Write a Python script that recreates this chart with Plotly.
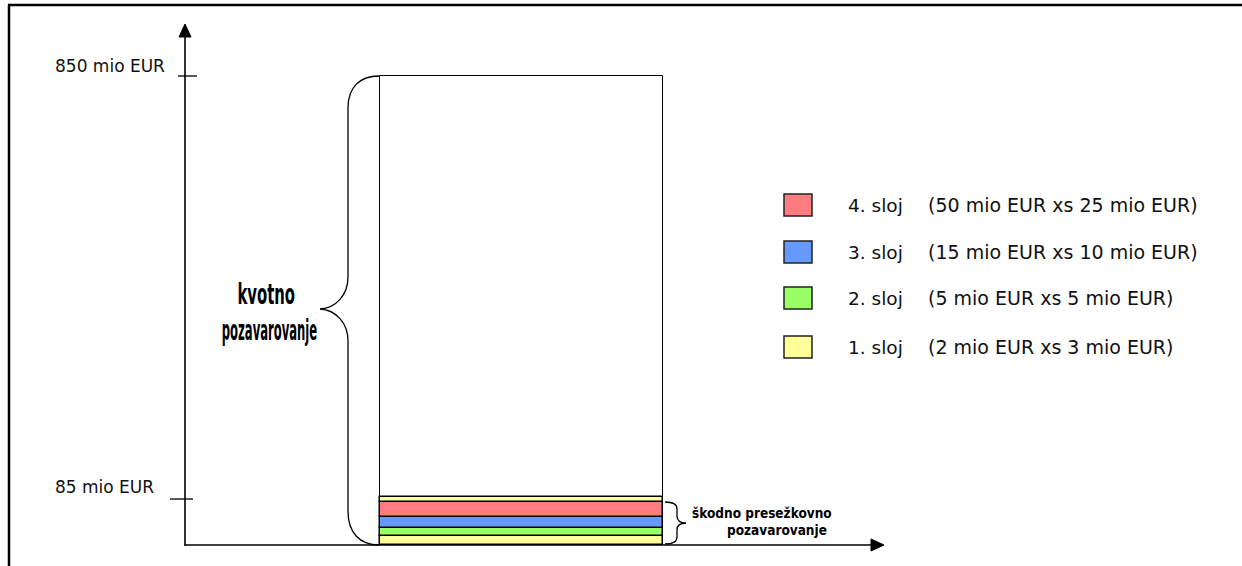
import plotly.graph_objects as go

# Layer structure of the reinsurance programme (bands drawn bottom -> top).
BAND_LAYER = [1, 2, 3, 4, 1]
BAND_HEIGHTS = [9, 8, 11, 15, 5]          # schematic band heights (diagram units)
BOX_HEIGHT = 469                           # height of the quota-share block

# Axis marks on the vertical axis (diagram units) and their labels
TICK_POS = [46, 469]
TICK_LABELS = ["85 mio EUR", "850 mio EUR"]

# Legend rows (top -> bottom)
LEGEND_LAYERS = [4, 3, 2, 1]
LAYER_NAMES = {1: "1. sloj", 2: "2. sloj", 3: "3. sloj", 4: "4. sloj"}
LAYER_DESC = {
    1: "(2 mio EUR xs 3 mio EUR)",
    2: "(5 mio EUR xs 5 mio EUR)",
    3: "(15 mio EUR xs 10 mio EUR)",
    4: "(50 mio EUR xs 25 mio EUR)",
}
LAYER_COLORS = {1: "#FFFF99", 2: "#99FF66", 3: "#6699FF", 4: "#FF7C80"}

W, H = 1242, 566
Y0 = 545          # baseline offset so one diagram unit is one pixel
BOX_X0, BOX_X1 = 380, 663
AX_X = 185

fig = go.Figure()

# Quota-share block
fig.add_trace(go.Bar(
    x=[(BOX_X0 + BOX_X1) / 2], y=[BOX_HEIGHT], base=[0], width=[BOX_X1 - BOX_X0],
    marker=dict(color="white", line=dict(color="black", width=1)),
    showlegend=False, hoverinfo="skip",
))

# Excess-of-loss layers stacked at the bottom
base = 0
for lay, h in zip(BAND_LAYER, BAND_HEIGHTS):
    fig.add_trace(go.Bar(
        x=[(BOX_X0 + BOX_X1) / 2], y=[h], base=[base], width=[BOX_X1 - BOX_X0],
        marker=dict(color=LAYER_COLORS[lay], line=dict(color="black", width=1.5)),
        showlegend=False, hoverinfo="skip", name=LAYER_NAMES[lay],
    ))
    base += h

shapes = []
line_blk = dict(color="black", width=1.6)

# Outer frame (left and top edges)
shapes.append(dict(type="line", xref="paper", yref="paper", x0=9 / W, y0=0, x1=9 / W, y1=1 - 5 / H,
                   line=dict(color="black", width=2.5)))
shapes.append(dict(type="line", xref="paper", yref="paper", x0=8 / W, y0=1 - 5 / H, x1=1, y1=1 - 5 / H,
                   line=dict(color="black", width=2.5)))

# Vertical axis with arrow head
shapes.append(dict(type="line", xref="x", yref="y", x0=AX_X, y0=-1, x1=AX_X, y1=510, line=line_blk))
shapes.append(dict(type="path", xref="x", yref="y",
                   path=f"M {AX_X-6},508 L {AX_X+6},508 L {AX_X},521 Z",
                   fillcolor="black", line=dict(color="black", width=1)))
# Horizontal axis with arrow head
shapes.append(dict(type="line", xref="x", yref="y", x0=AX_X, y0=0, x1=873, y1=0, line=line_blk))
shapes.append(dict(type="path", xref="x", yref="y",
                   path="M 871,-6 L 871,6 L 884,0 Z",
                   fillcolor="black", line=dict(color="black", width=1)))

# Tick marks across the vertical axis
tick_extent = {46: (170, 193), 469: (178, 197)}
for tp in TICK_POS:
    xa, xb = tick_extent[tp]
    shapes.append(dict(type="line", xref="x", yref="y", x0=xa, y0=tp, x1=xb, y1=tp,
                       line=dict(color="black", width=1.3)))

# Large brace for the quota share
shapes.append(dict(type="path", xref="x", yref="y",
                   path=("M 379,469 C 360,469 348,458 348,437 L 348,268 "
                         "C 348,250 336,237 320,236 C 336,235 348,222 348,204 "
                         "L 348,34 C 348,12 360,0 379,0"),
                   line=dict(color="black", width=1.3)))
# Small brace for the excess-of-loss layers
shapes.append(dict(type="path", xref="x", yref="y",
                   path=("M 665,43 C 673,43 677,41 677,36 L 677,29 "
                         "C 677,24 680,22 686,22 C 680,22 677,20 677,15 "
                         "L 677,8 C 677,3 673,1 665,1"),
                   line=dict(color="black", width=1.3)))

annotations = []
label_font = dict(family="DejaVu Sans, Verdana, sans-serif", size=17, color="#111111")

# Axis labels
label_y = {46: 58, 469: 479}
for tp, txt in zip(TICK_POS, TICK_LABELS):
    annotations.append(dict(x=53, y=label_y[tp], xref="x", yref="y", text=txt,
                            showarrow=False, xanchor="left", yanchor="middle", font=label_font))

# Legend
row_y = [340, 293, 247, 198]
for lay, ry in zip(LEGEND_LAYERS, row_y):
    shapes.append(dict(type="rect", xref="x", yref="y", x0=784, x1=812, y0=ry - 11, y1=ry + 11,
                       fillcolor=LAYER_COLORS[lay], line=dict(color="#222222", width=1.5)))
    annotations.append(dict(x=846, y=ry, xref="x", yref="y", text=LAYER_NAMES[lay],
                            showarrow=False, xanchor="left", yanchor="middle",
                            font=dict(family="DejaVu Sans, Verdana, sans-serif", size=18.5, color="#111111")))
    annotations.append(dict(x=926, y=ry, xref="x", yref="y", text=LAYER_DESC[lay],
                            showarrow=False, xanchor="left", yanchor="middle",
                            font=dict(family="DejaVu Sans, Verdana, sans-serif", size=19, color="#111111")))

# Brace captions (the quota-share caption uses a tall, narrow lettering)
big_font = dict(family="DejaVu Sans Condensed, DejaVu Sans, sans-serif",
                size=15, color="black", weight="bold")
annotations.append(dict(x=266, y=250, xref="x", yref="y", text="kvotno",
                        showarrow=False, xanchor="center", yanchor="middle", font=big_font))
annotations.append(dict(x=269, y=214, xref="x", yref="y", text="pozavarovanje",
                        showarrow=False, xanchor="center", yanchor="middle", font=big_font))

small_font = dict(family="DejaVu Sans Condensed, DejaVu Sans, sans-serif",
                  size=13.5, color="black", weight="bold")
annotations.append(dict(x=690, y=32, xref="x", yref="y", text="škodno presežkovno",
                        showarrow=False, xanchor="left", yanchor="middle", font=small_font))
annotations.append(dict(x=725, y=15, xref="x", yref="y", text="pozavarovanje",
                        showarrow=False, xanchor="left", yanchor="middle", font=small_font))

fig.update_layout(
    width=W, height=H,
    margin=dict(l=0, r=0, t=0, b=0),
    paper_bgcolor="white", plot_bgcolor="white",
    barmode="overlay", bargap=0,
    xaxis=dict(range=[0, W], visible=False, fixedrange=True),
    yaxis=dict(range=[Y0 - H, Y0], visible=False, fixedrange=True),
    shapes=shapes, annotations=annotations,
    showlegend=False,
)

# Stretch the quota-share caption into tall, narrow lettering (scale about its centre)
STRETCH = {"kvotno": (1.1, 1.85), "pozavarovanje": (0.86, 1.85)}
post_js = """
document.documentElement.style.overflow = 'hidden';
document.body.style.margin = '0';
document.body.style.overflow = 'hidden';
var gd = document.getElementById('{plot_id}');
var stretch = %s;
var nodes = gd.querySelectorAll('g.annotation text.annotation-text');
nodes.forEach(function (t) {
  var s = stretch[t.textContent];
  if (!s) return;
  if (parseFloat(t.style.fontSize) < 15) return;
  var b = t.getBBox();
  var cx = b.x + b.width / 2, cy = b.y + b.height / 2;
  t.setAttribute('transform', 'translate(' + cx + ',' + cy + ') scale(' + s[0] + ',' + s[1] + ') translate(' + (-cx) + ',' + (-cy) + ')');
});
""" % ("{" + ",".join('"%s":[%s,%s]' % (k, v[0], v[1]) for k, v in STRETCH.items()) + "}")

fig.write_html("out.html", config=dict(displayModeBar=False), post_script=post_js)
